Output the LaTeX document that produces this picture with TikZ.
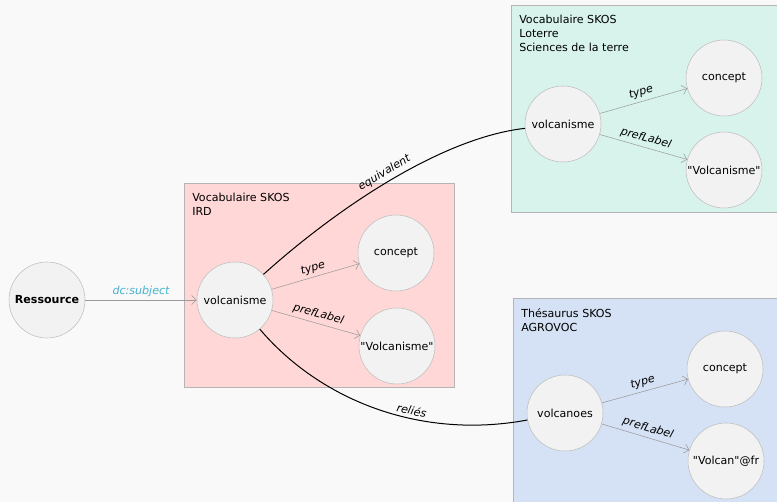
\documentclass[tikz,border=0pt]{standalone}
\usepackage{fontspec}
\setmainfont{DejaVu Sans}
\usepackage{xcolor}
\usetikzlibrary{arrows.meta, positioning, calc}

\definecolor{bgcol}{HTML}{F9F9F9}
\definecolor{irdfill}{HTML}{FFD7D7}
\definecolor{loterrefill}{HTML}{D7F3EC}
\definecolor{agrofill}{HTML}{D5E1F4}
\definecolor{boxline}{HTML}{B5B5B5}
\definecolor{nodefill}{HTML}{F2F2F2}
\definecolor{nodeline}{HTML}{BDBDBD}
\definecolor{relcol}{HTML}{9A9A9A}
\definecolor{dccol}{HTML}{45B2CE}
\newcommand{\qt}[1]{\textquotedbl#1\textquotedbl}

\begin{document}
\begin{tikzpicture}[x=0.75pt, y=-0.75pt,
    font=\fontsize{8.3}{10.5}\selectfont,
    res/.style={circle, draw=nodeline, fill=nodefill, minimum size=57pt, inner sep=0pt},
    vocab/.style={rectangle, draw=boxline, fill=#1, anchor=north west, inner sep=0pt},
    vocabtitle/.style={anchor=north west, align=left, inner sep=0pt},
    rel/.style={draw=relcol, -{Straight Barb[length=3.5pt, width=7pt]}},
    link/.style={draw=black, line width=0.75pt},
    lbl/.style={font=\fontsize{8.3}{10}\selectfont\itshape, sloped, above, inner sep=2.5pt}
]
\clip (0,0) rectangle (777,502);
\fill[bgcol] (0,0) rectangle (777,502);

% les trois vocabulaires
\node[vocab=irdfill, minimum width=202.5pt, minimum height=153pt] (ird) at (184,183) {};
\node[vocab=loterrefill, minimum width=210pt, minimum height=155pt] (loterre) at (511,5) {};
\node[vocab=agrofill, minimum width=210pt, minimum height=160pt] (agrovoc) at (513,298) {};
\node[vocabtitle] at ([shift={(8,10)}]ird.north west) {Vocabulaire SKOS\\IRD};
\node[vocabtitle] at ([shift={(8,10)}]loterre.north west) {Vocabulaire SKOS\\Loterre\\Sciences de la terre};
\node[vocabtitle] at ([shift={(8,10)}]agrovoc.north west) {Thésaurus SKOS\\AGROVOC};

% ressource
\node[res] (ressource) at (47,300) {\bfseries Ressource};

% IRD
\node[res] (irdvolc) at (235,300) {volcanisme};
\node[res] (irdconcept) at (396,253) {concept};
\node[res] (irdlabel) at (397,346) {\qt{Volcanisme}};

% Loterre
\node[res] (ltvolc) at (563,124) {volcanisme};
\node[res] (ltconcept) at (724,78) {concept};
\node[res] (ltlabel) at (724,170) {\qt{Volcanisme}};

% AGROVOC
\node[res] (agvolc) at (565,413) {volcanoes};
\node[res] (agconcept) at (725,369) {concept};
\node[res] (aglabel) at (726,461) {\qt{Volcan}@fr};

\draw[rel] (ressource) -- node[lbl, text=dccol] {dc:subject} (irdvolc);

\draw[rel] (irdvolc) -- node[lbl] {type} (irdconcept);
\draw[rel] (irdvolc) -- node[lbl] {prefLabel} (irdlabel);
\draw[rel] (ltvolc) -- node[lbl] {type} (ltconcept);
\draw[rel] (ltvolc) -- node[lbl] {prefLabel} (ltlabel);
\draw[rel] (agvolc) -- node[lbl] {type} (agconcept);
\draw[rel] (agvolc) -- node[lbl] {prefLabel} (aglabel);

% alignements entre vocabulaires
\draw[link] (irdvolc) .. controls (335,210) and (440,138) .. node[lbl, pos=0.5] {equivalent} (ltvolc);
\draw[link] (irdvolc) .. controls (320,400) and (420,440) .. node[lbl, pos=0.62] {reliés} (agvolc);
\end{tikzpicture}
\end{document}
